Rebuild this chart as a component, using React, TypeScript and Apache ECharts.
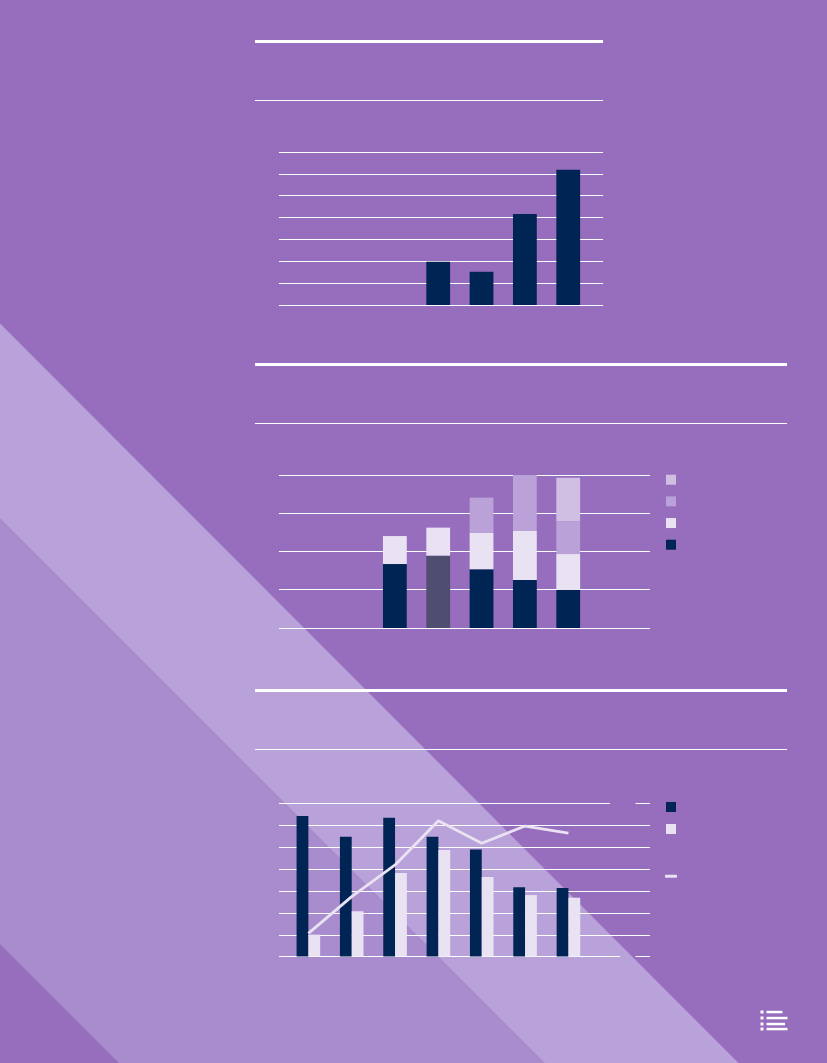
import React, { useEffect, useRef } from "react";
import * as echarts from "echarts";

const categories = ["1", "2", "3", "4", "5", "6", "7"];

const topValues = [null, null, null, 19.8, 15.2, 41.6, 61.9];

const stackNames = ["Group D", "Group C", "Group B", "Group A"];
const stackA = [null, null, 41.8, 47.3, 38.4, 31.4, 24.8];
const stackB = [null, null, 18.3, 18.3, 23.7, 32, 23.5];
const stackC = [null, null, null, null, 23.1, 36.6, 21.6];
const stackD = [null, null, null, null, null, null, 28.3];

const barsA = [64.3, 54.8, 63.5, 54.8, 48.9, 31.7, 31.3];
const barsB = [10, 20.7, 38.2, 48.7, 36.4, 28.1, 26.9];
const lineValues = [10.6, 27.4, 41.9, 62.1, 51.8, 59.7, 56.4];

const BASE = "#976DBE";
const BAND_LIGHT = "#B9A2D9";
const BAND_MID = "#A98CCE";
const NAVY = "#002554";
const PALE = "#E9E2F3";
const MID = "#BAA1D8";
const SOFT = "#D0BFE3";
const SLATE = "#504E70";
const WHITE = "#FFFFFF";

const BAR_LEFT = 286.5;
const BAR_W = 303.4;

const rule = (x1: number, x2: number, y: number, w: number) => ({
  type: "line",
  z: 1,
  shape: { x1, y1: y, x2, y2: y },
  style: { stroke: WHITE, lineWidth: w },
  silent: true,
});

const box = (x: number, y: number, width: number, height: number) => ({
  type: "rect",
  z: 1,
  shape: { x, y, width, height },
  style: { fill: WHITE },
  silent: true,
});

const poly = (points: number[][], fill: string) => ({
  type: "polygon",
  z: -10,
  shape: { points },
  style: { fill },
  silent: true,
});

const hiddenX = (gridIndex: number) => ({
  gridIndex,
  type: "category" as const,
  data: categories,
  show: false,
});

const hiddenY = (gridIndex: number, max: number, interval: number, lines: boolean, edges = true) => ({
  gridIndex,
  type: "value" as const,
  min: 0,
  max,
  interval,
  axisLabel: { show: false },
  axisLine: { show: false },
  axisTick: { show: false },
  splitLine: { show: lines, showMinLine: edges, showMaxLine: edges, lineStyle: { color: WHITE, width: 1 } },
});

export default function App() {
  const ref = useRef<HTMLDivElement>(null);

  useEffect(() => {
    document.body.style.margin = "0";
    const chart = echarts.init(ref.current!, undefined, { renderer: "svg" });
    const stacked = (name: string, data: (number | null)[], color: string) => ({
      name,
      type: "bar",
      stack: "s",
      xAxisIndex: 3,
      yAxisIndex: 3,
      barWidth: 23.8,
      data,
      itemStyle: { color },
    });
    chart.setOption({
      animation: false,
      backgroundColor: BASE,
      tooltip: { show: false },
      legend: [
        {
          orient: "vertical",
          left: 666,
          top: 474.7,
          padding: 0,
          itemWidth: 10,
          itemHeight: 10,
          itemGap: 11.67,
          icon: "rect",
          selectedMode: false,
          formatter: () => "",
          data: stackNames,
        },
        {
          orient: "vertical",
          left: 666,
          top: 802,
          padding: 0,
          itemWidth: 10,
          itemHeight: 10,
          itemGap: 12,
          icon: "rect",
          selectedMode: false,
          formatter: () => "",
          data: ["Bars A", "Bars B"],
        },
        {
          left: 665,
          top: 874.7,
          padding: 0,
          itemWidth: 12,
          itemHeight: 3,
          icon: "roundRect",
          selectedMode: false,
          formatter: () => "",
          data: ["Line"],
        },
      ],
      grid: [
        { left: 279, width: 324, top: 152, height: 153 },
        { left: BAR_LEFT, width: BAR_W, top: 152, height: 153 },
        { left: 279, width: 371, top: 475, height: 152 },
        { left: BAR_LEFT, width: BAR_W, top: 475, height: 153 },
        { left: 279, width: 371, top: 803, height: 154 },
        { left: BAR_LEFT + 0.2, width: BAR_W, top: 803.5, height: 153 },
      ],
      xAxis: [0, 1, 2, 3, 4, 5].map(hiddenX),
      yAxis: [
        hiddenY(0, 70, 10, true),
        hiddenY(1, 70, 10, false),
        hiddenY(2, 100, 25, true, false),
        hiddenY(3, 100, 25, false),
        hiddenY(4, 70, 10, true, false),
        hiddenY(5, 70, 10, false),
      ],
      series: [
        {
          name: "Total",
          type: "bar",
          xAxisIndex: 1,
          yAxisIndex: 1,
          barWidth: 23.8,
          data: topValues,
          itemStyle: { color: NAVY },
        },
        {
          ...stacked("Group A", stackA, NAVY),
          data: stackA.map((v, i) => (i === 3 ? { value: v, itemStyle: { color: SLATE } } : v)),
        },
        stacked("Group B", stackB, PALE),
        stacked("Group C", stackC, MID),
        stacked("Group D", stackD, SOFT),
        {
          name: "Bars A",
          type: "bar",
          xAxisIndex: 5,
          yAxisIndex: 5,
          barWidth: 11.8,
          barGap: 0,
          data: barsA,
          itemStyle: { color: NAVY },
        },
        {
          name: "Bars B",
          type: "bar",
          xAxisIndex: 5,
          yAxisIndex: 5,
          barWidth: 11.8,
          barGap: 0,
          data: barsB,
          itemStyle: { color: PALE },
        },
        {
          name: "Line",
          type: "line",
          xAxisIndex: 5,
          yAxisIndex: 5,
          symbol: "none",
          z: 5,
          data: lineValues,
          itemStyle: { color: PALE },
          lineStyle: { color: PALE, width: 2.8 },
        },
      ],
      graphic: [
        poly([[0, 323.5], [738.5, 1063], [544.5, 1063], [0, 518.5]], BAND_LIGHT),
        poly([[0, 518.5], [544.5, 1063], [119, 1063], [0, 944]], BAND_MID),
        rule(255, 603, 41.5, 3),
        rule(255, 603, 100.5, 1),
        rule(255, 787, 364.5, 3),
        rule(255, 787, 423.5, 1),
        rule(255, 787, 690.5, 3),
        rule(255, 787, 749.5, 1),
        rule(279, 650, 475.5, 1),
        rule(279, 650, 628.5, 1),
        rule(279, 610, 803.5, 1),
        rule(635.5, 650, 803.5, 1),
        rule(279, 620, 956.5, 1),
        rule(635.5, 650, 956.5, 1),
        box(760.5, 1010.5, 3, 3),
        box(760.5, 1016.5, 3, 3),
        box(760.5, 1022.5, 3, 3),
        box(760.5, 1027.5, 3, 3),
        box(766.5, 1010.8, 16, 2.5),
        box(766.5, 1016.8, 21, 2.5),
        box(766.5, 1022.8, 18.5, 2.5),
        box(766.5, 1027.8, 21, 2.5),
      ],
    });
    return () => chart.dispose();
  }, []);

  return <div ref={ref} style={{ width: 827, height: 1063 }} />;
}
